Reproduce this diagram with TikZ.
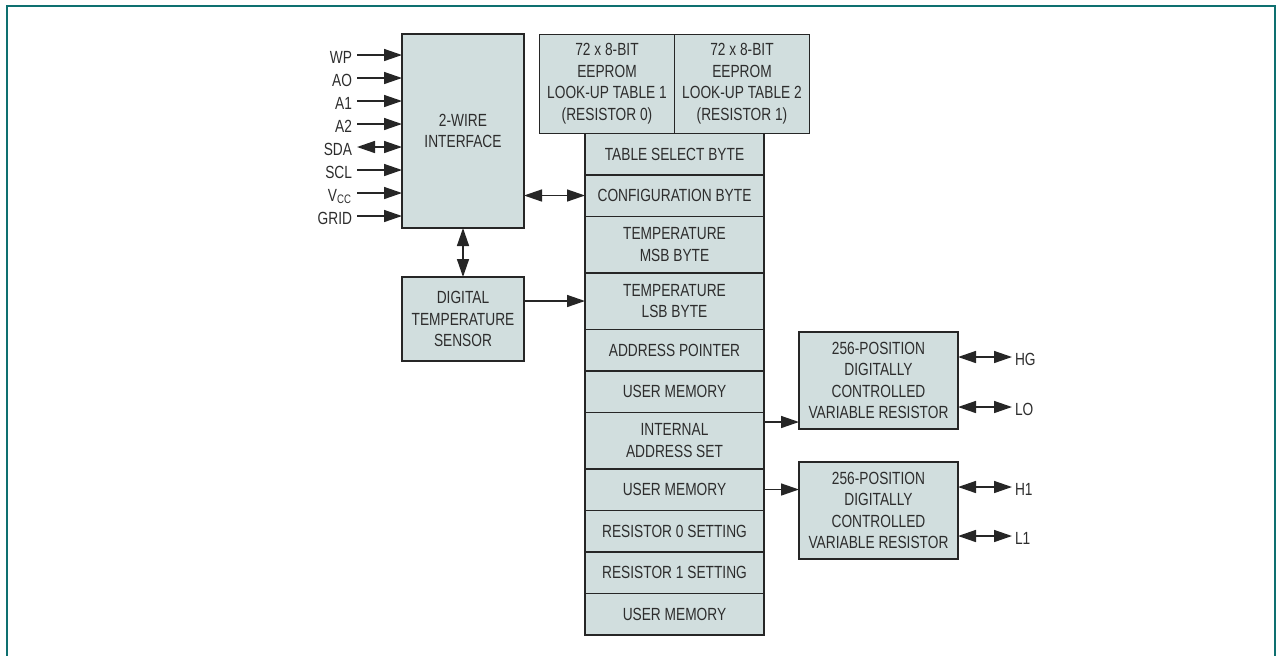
\documentclass[tikz,border=0pt]{standalone}
\usepackage{fontspec}
\setmainfont{Liberation Sans}[FakeStretch=0.78]
\usetikzlibrary{arrows.meta,positioning,calc}
\definecolor{boxfill}{RGB}{209,222,222}
\definecolor{inkgray}{RGB}{45,45,45}
\definecolor{frameteal}{RGB}{14,112,112}

\begin{document}
\begin{tikzpicture}[x=0.5pt, y=-0.5pt, node distance=0pt, outer sep=0pt,
  font=\fontsize{8.8}{10.8}\selectfont, >={Triangle[length=9pt,width=6pt]}]

\tikzstyle{box}=[rectangle,draw=black!85,line width=0.75pt,fill=boxfill,text=inkgray,align=center,inner sep=0pt]
\tikzstyle{rowbox}=[box,minimum width=89.5pt,minimum height=20.75pt]
\tikzstyle{tallrow}=[rowbox,minimum height=28.25pt]
\tikzstyle{lutbox}=[box,minimum width=67.5pt,minimum height=49.5pt]
\tikzstyle{resbox}=[box,minimum width=79.5pt,minimum height=48.5pt]
\tikzstyle{pinl}=[anchor=east,inner sep=2.5pt,text=inkgray,text height=1.6ex,text depth=0pt]
\tikzstyle{pinr}=[pinl,anchor=west,inner sep=1.5pt]
\tikzstyle{wire}=[line width=0.75pt,draw=black!85]

\useasboundingbox (0,0) rectangle (1276,655);
\draw[frameteal,line width=1pt] (7,660) -- (7,6) -- (1275,6) -- (1275,660);

% register stack
\node[rowbox] (tsel) at (674.5,154) {TABLE SELECT BYTE};
\node[rowbox] (cfg) [below = of tsel] {CONFIGURATION BYTE};
\node[tallrow] (tmsb) [below = of cfg] {TEMPERATURE\\MSB BYTE};
\node[tallrow] (tlsb) [below = of tmsb] {TEMPERATURE\\LSB BYTE};
\node[rowbox] (aptr) [below = of tlsb] {ADDRESS POINTER};
\node[rowbox] (umem1) [below = of aptr] {USER MEMORY};
\node[tallrow] (iaddr) [below = of umem1] {INTERNAL\\ADDRESS SET};
\node[rowbox] (umem2) [below = of iaddr] {USER MEMORY};
\node[rowbox] (rset0) [below = of umem2] {RESISTOR 0 SETTING};
\node[rowbox] (rset1) [below = of rset0] {RESISTOR 1 SETTING};
\node[rowbox] (umem3) [below = of rset1] {USER MEMORY};

% look-up tables
\node[lutbox] (lut1) [above left = of tsel.north] {72 x 8-BIT\\EEPROM\\LOOK-UP TABLE 1\\(RESISTOR 0)};
\node[lutbox] (lut2) [above right = of tsel.north] {72 x 8-BIT\\EEPROM\\LOOK-UP TABLE 2\\(RESISTOR 1)};

\node[box,minimum width=61pt,minimum height=97pt] (twire) at (463,131) {2-WIRE\\INTERFACE};
\node[box,minimum width=61pt,minimum height=42pt] (sensor) [below = 24.5pt of twire] {DIGITAL\\TEMPERATURE\\SENSOR};

\node[resbox] (res0) at (878.5,380.5) {256-POSITION\\DIGITALLY\\CONTROLLED\\VARIABLE RESISTOR};
\node[resbox] (res1) [below = 16.5pt of res0] {256-POSITION\\DIGITALLY\\CONTROLLED\\VARIABLE RESISTOR};

% pins
\node[pinl] (wp) at (357,55) {WP};
\node[pinl] (ao) at (357,78) {AO};
\node[pinl] (aa) at (357,101) {A1};
\node[pinl] (ab) at (357,124) {A2};
\node[pinl] (sda) at (357,147) {SDA};
\node[pinl] (scl) at (357,170) {SCL};
\node[pinl] (vcc) at (357,193) {V\textsubscript{CC}};
\node[pinl] (grid) at (357,216) {GRID};
\draw[wire,->] (wp.east) -- (wp.east -| twire.west);
\draw[wire,->] (ao.east) -- (ao.east -| twire.west);
\draw[wire,->] (aa.east) -- (aa.east -| twire.west);
\draw[wire,->] (ab.east) -- (ab.east -| twire.west);
\draw[wire,<->] (sda.east) -- (sda.east -| twire.west);
\draw[wire,->] (scl.east) -- (scl.east -| twire.west);
\draw[wire,->] (vcc.east) -- (vcc.east -| twire.west);
\draw[wire,->] (grid.east) -- (grid.east -| twire.west);

\node[pinr] (hg) at (1012,357) {HG};
\node[pinr] (lo) at (1012,407) {LO};
\node[pinr] (ha) at (1012,487) {H1};
\node[pinr] (la) at (1012,536) {L1};
\draw[wire,<->] (hg.west -| res0.east) -- (hg.west);
\draw[wire,<->] (lo.west -| res0.east) -- (lo.west);
\draw[wire,<->] (ha.west -| res1.east) -- (ha.west);
\draw[wire,<->] (la.west -| res1.east) -- (la.west);

% internal links
\draw[wire,<->] (twire) -- (sensor);
\draw[wire,<->] (twire.east |- cfg.west) -- (cfg.west);
\draw[wire,->] (sensor.east |- tlsb.west) -- (tlsb.west);
\coordinate (r0in) at ([yshift=3.5pt]res0.south west);
\draw[wire,->] (iaddr.east |- r0in) -- (r0in);
\draw[wire,->] (umem2.east) -- (umem2.east -| res1.west);
\end{tikzpicture}
\end{document}
